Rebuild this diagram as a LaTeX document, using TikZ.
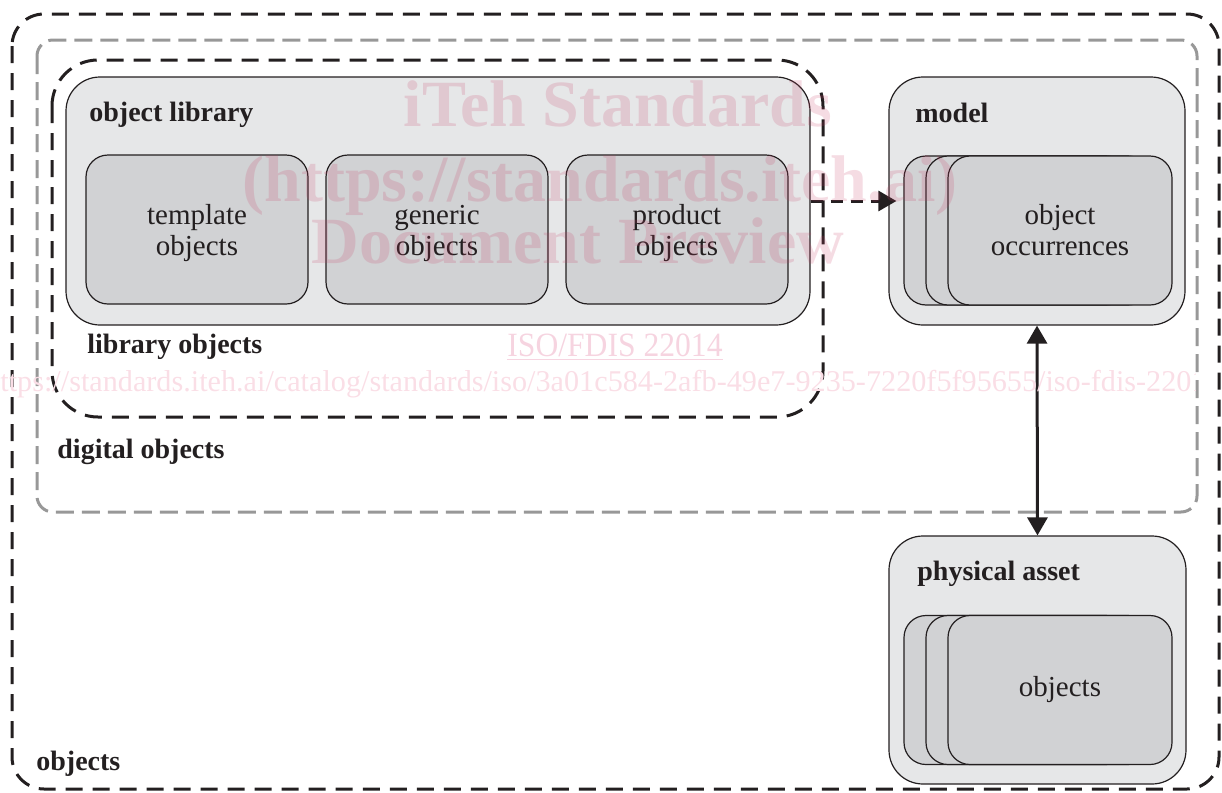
\documentclass[tikz,border=0pt]{standalone}
\usepackage{fontspec}
\setmainfont{Liberation Serif}
\usetikzlibrary{arrows.meta,positioning}
\definecolor{boxgray}{RGB}{230,231,232}
\definecolor{subgray}{RGB}{209,210,212}
\definecolor{edgegray}{RGB}{35,31,32}
\definecolor{dashgray}{RGB}{152,152,152}
\definecolor{wmpink}{RGB}{200,60,100}
\definecolor{wmlight}{RGB}{250,222,230}
\definecolor{wmiso}{RGB}{246,212,224}
\newcommand{\lowstrut}{\rule{0pt}{14pt}}
\tikzset{
  box/.style={draw=edgegray, line width=0.6pt, fill=boxgray, rounded corners=17pt, inner sep=0pt},
  subbox/.style={draw=edgegray, line width=0.6pt, fill=subgray, rounded corners=11pt,
    minimum width=111pt, minimum height=74.5pt, align=center,
    font=\fontsize{14.5}{15.5}\selectfont, text=edgegray},
  head/.style={font=\fontsize{14}{16}\selectfont\bfseries, anchor=base west, inner sep=0pt, text=edgegray},
  region/.style={line width=1.5pt, dash pattern=on 8.5pt off 5pt},
  wmark/.style={font=\fontsize{33}{36}\selectfont\bfseries, text=wmpink, text opacity=0.18, anchor=base, inner sep=0pt}
}
\begin{document}
\begin{tikzpicture}[x=0.5pt,y=-0.5pt, >={Triangle[length=9pt,width=10pt]}]
\useasboundingbox (0,0) rectangle (1222,793);
% nested regions
\draw[region, draw=edgegray, rounded corners=16pt] (12,14) rectangle (1219,789);
\draw[region, draw=dashgray, dash pattern=on 9pt off 4pt, rounded corners=8pt] (37,40) rectangle (1197,512);
\draw[region, draw=edgegray, rounded corners=23pt] (52,60) rectangle (823,417);
\node[head] (objectsLbl) at (36,770) {objects};
\node[head] (digitalLbl) at (57,458) {digital objects};
\node[head] (libobjLbl) at (87,353) {library objects};

% object library
\node[box, minimum width=372pt, minimum height=124pt] (objlib) at (438,201) {};
\node[head] (objlibLbl) at (89,121) {object library};
\node[subbox] (tmpl) at (197,229.5) {\lowstrut template\\objects};
\node[subbox] (gen) at (437,229.5) {\lowstrut generic\\objects};
\node[subbox] (prod) at (677,229.5) {\lowstrut product\\objects};

% model
\node[box, minimum width=148pt, minimum height=124pt] (model) at (1037,201) {};
\node[head] (modelLbl) at (915,122) {model};
\node[subbox, minimum width=112pt] (occA) at (1016,230.5) {};
\node[subbox, minimum width=112pt] (occB) at (1038,230.5) {};
\node[subbox, minimum width=112pt] (occC) at (1060,230.5) {object\\occurrences};

% physical asset
\node[box, minimum width=148.5pt, minimum height=124pt] (asset) at (1037.5,660) {};
\node[head] (assetLbl) at (917,580) {physical asset};
\node[subbox, minimum width=112pt] (physA) at (1016,690) {};
\node[subbox, minimum width=112pt] (physB) at (1038,690) {};
\node[subbox, minimum width=112pt] (physC) at (1060,690) {objects};

% connectors
\draw[line width=1.5pt, draw=edgegray, dash pattern=on 6pt off 4pt, ->, shorten >=3.5pt]
  (objlib.east) -- (objlib.east -| occA.west);
\draw[line width=1.5pt, draw=edgegray, <->] (model.south) -- (asset.north);

% watermark
\node[wmark] (wmA) at (618,126) {iTeh Standards};
\node[wmark] (wmB) at (600,201) {(https://standards.iteh.ai)};
\node[wmark] (wmC) at (578,263) {Document Preview};
\node[anchor=base, inner sep=0pt, text=wmiso, font=\fontsize{17}{18}\selectfont] (wmD) at (615,356)
  {\scalebox{0.93}[1]{\underline{ISO/FDIS 22014}}};
\begin{scope}
\clip (0,0) rectangle (1195,793);
\node[anchor=base east, inner sep=0pt, text=wmlight, font=\fontsize{15.1}{17}\selectfont] (wmE) at (1222,391)
  {https://standards.iteh.ai/catalog/standards/iso/3a01c584-2afb-49e7-9235-7220f5f95655/iso-fdis-22014};
\end{scope}
\end{tikzpicture}
\end{document}
